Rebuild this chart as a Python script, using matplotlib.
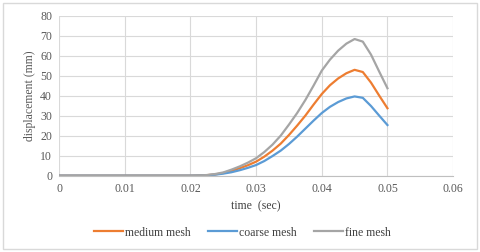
import matplotlib
matplotlib.use("Agg")
from matplotlib import pyplot as plt
from matplotlib.patches import Rectangle

# time samples (sec) and displacement (mm)
time = [0, 0.0025, 0.005, 0.0075, 0.01, 0.0125, 0.015, 0.0175, 0.02,
        0.02125, 0.0225, 0.02375, 0.025, 0.02625, 0.0275, 0.02875, 0.03,
        0.03125, 0.0325, 0.03375, 0.035, 0.03625, 0.0375, 0.03875, 0.04,
        0.04125, 0.0425, 0.04375, 0.045, 0.04625, 0.0475, 0.04875, 0.05]
medium_mesh = [0, 0, 0, 0, 0, 0, 0, 0, 0,
               0.1, 0.25, 0.6, 1.3, 2.4, 3.7, 5.2, 7.0,
               9.5, 12.5, 16.0, 20.3, 25.0, 30.0, 35.5, 40.8,
               45.2, 48.6, 51.2, 52.9, 51.8, 46.5, 40.0, 33.7]
coarse_mesh = [0, 0, 0, 0, 0, 0, 0, 0, 0,
               0.05, 0.2, 0.5, 1.0, 1.7, 2.7, 3.9, 5.3,
               7.3, 9.8, 12.5, 15.8, 19.5, 23.5, 27.5, 31.3,
               34.4, 36.8, 38.6, 39.6, 38.9, 34.8, 30.0, 25.3]
fine_mesh = [0, 0, 0, 0, 0, 0, 0, 0, 0,
             0.1, 0.3, 0.8, 1.6, 3.0, 4.6, 6.5, 8.7,
             11.8, 15.5, 20.0, 25.5, 31.3, 37.8, 45.0, 52.5,
             58.0, 62.5, 66.0, 68.3, 67.0, 60.5, 52.0, 43.7]

series = [
    ("medium mesh", medium_mesh, "#ED7D31"),
    ("coarse mesh", coarse_mesh, "#5B9BD5"),
    ("fine mesh", fine_mesh, "#A5A5A5"),
]
xticks = [0, 0.01, 0.02, 0.03, 0.04, 0.05, 0.06]
xtick_labels = ["0", "0.01", "0.02", "0.03", "0.04", "0.05", "0.06"]
yticks = [0, 10, 20, 30, 40, 50, 60, 70, 80]

plt.rcParams['font.family'] = ['Liberation Serif', 'DejaVu Serif']

fig = plt.figure(figsize=(4.8, 2.52), dpi=100)
ax = fig.add_axes([0.123, 0.303, 0.821, 0.635])

for name, values, color in series:
    ax.plot(time, values, color=color, linewidth=1.6, label=name, zorder=3,
            solid_joinstyle="round")

ax.set_xlim(0, 0.06)
ax.set_ylim(0, 80)
ax.set_xticks(xticks)
ax.set_xticklabels(xtick_labels)
ax.set_yticks(yticks)
ax.grid(True, color="#D9D9D9", linewidth=0.8)
ax.set_axisbelow(True)
for s in ["top", "right", "left"]:
    ax.spines[s].set_visible(False)
ax.spines["bottom"].set_color("#BFBFBF")
ax.tick_params(axis="both", length=0, labelsize=8.5, colors="#595959", pad=5)

ax.set_xlabel("time  (sec)", fontsize=8.5, color="#404040", labelpad=4)
ax.set_ylabel("displacement (mm)", fontsize=8.5, color="#595959", labelpad=3)

fig.legend(loc="center", bbox_to_anchor=(0.505, 0.077), ncol=3, frameon=False,
           fontsize=8.5, handlelength=2.5, handletextpad=0.2, columnspacing=1.4,
           labelcolor="#404040")

# thin frame around the whole chart
fig.patches.append(Rectangle((0.006, 0.012), 0.988, 0.976, transform=fig.transFigure,
                             fill=False, edgecolor="#D9D9D9", linewidth=1.0))

fig.savefig("out.png", dpi=100)
